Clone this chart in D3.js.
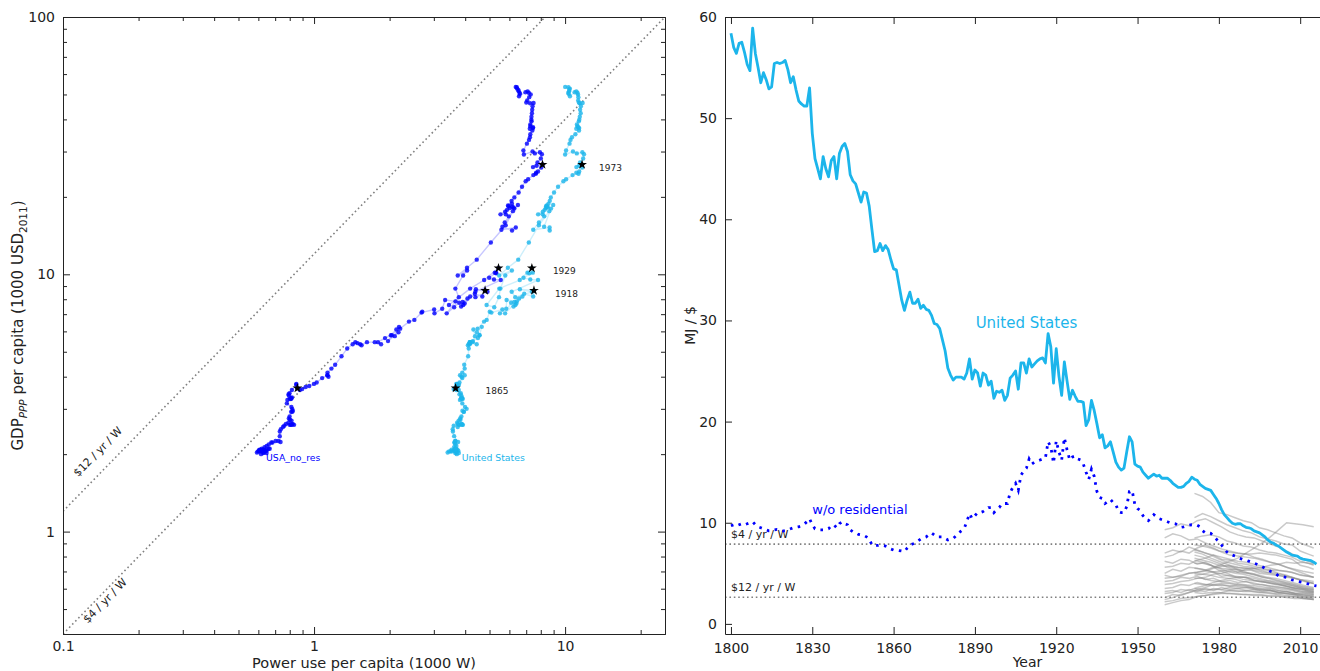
<!DOCTYPE html>
<meta charset="utf-8">
<script src="https://cdn.jsdelivr.net/npm/d3@7"></script>
<style>
  body { margin: 0; background: #fff; }
  svg text { font-family: "DejaVu Sans", sans-serif; }
</style>
<div id="viz"></div>
<script>

// ---- data -------------------------------------------------------------
const years = d3.range(1800, 2017);

// GDP per capita, 1000 USD (2011, PPP)
const gdpPerCapita = [
  2.00, 2.02, 2.05, 2.03, 2.06, 2.08, 2.10, 2.10, 2.02, 2.05,
  2.08, 2.08, 2.05, 2.05, 2.03, 2.05, 2.06, 2.07, 2.08, 2.07,
  2.08, 2.10, 2.13, 2.15, 2.18, 2.22, 2.22, 2.25, 2.25, 2.23,
  2.35, 2.45, 2.50, 2.58, 2.55, 2.62, 2.65, 2.60, 2.60, 2.70,
  2.62, 2.60, 2.60, 2.62, 2.72, 2.75, 2.80, 2.92, 2.95, 2.92,
  3.00, 3.05, 3.15, 3.30, 3.30, 3.28, 3.32, 3.28, 3.25, 3.38,
  3.45, 3.42, 3.55, 3.72, 3.75, 3.61, 3.55, 3.58, 3.65, 3.68,
  3.75, 3.80, 3.95, 4.05, 4.00, 4.05, 4.15, 4.30, 4.45, 4.80,
  5.15, 5.35, 5.45, 5.40, 5.35, 5.30, 5.45, 5.45, 5.35, 5.45,
  5.65, 5.80, 6.25, 5.80, 5.50, 5.95, 5.75, 6.10, 6.15, 6.55,
  6.65, 7.15, 7.10, 7.30, 7.05, 7.35, 7.95, 7.85, 7.05, 7.75,
  7.70, 7.80, 8.05, 8.20, 7.50, 7.60, 8.40, 8.20, 8.65, 8.75,
  8.55, 8.15, 8.55, 9.50, 9.55, 9.70, 10.15, 10.10, 10.15, 10.57,
  9.50, 8.80, 7.60, 7.45, 8.15, 8.80, 9.90, 10.35, 9.90, 10.60,
  11.40, 13.30, 15.50, 17.60, 18.60, 18.00, 15.30, 14.80, 15.20, 14.90,
  15.90, 16.80, 17.10, 17.50, 17.10, 18.10, 18.20, 18.30, 17.80, 18.80,
  18.40, 18.50, 19.30, 19.90, 20.80, 21.90, 23.00, 23.40, 24.30, 24.80,
  24.60, 25.10, 26.00, 26.70, 26.40, 26.10, 27.20, 28.20, 29.30, 29.80,
  29.50, 30.00, 29.20, 30.30, 32.20, 33.30, 34.10, 35.00, 36.20, 37.00,
  37.30, 36.80, 37.60, 38.20, 39.30, 39.90, 41.00, 42.30, 43.60, 45.00,
  46.30, 46.20, 46.50, 47.40, 48.80, 50.00, 50.80, 51.40, 51.00, 49.20,
  50.20, 50.70, 51.50, 52.00, 52.70, 53.30, 53.50
];

// energy intensity, MJ per $ (United States, all uses)
const mjPerDollarUS = [
  58.4, 57.0, 56.4, 57.4, 57.5, 56.5, 55.3, 54.7, 58.9, 56.4,
  55.0, 53.5, 54.5, 53.8, 52.9, 53.1, 55.4, 55.5, 55.4, 55.5,
  55.7, 54.8, 53.5, 54.1, 52.8, 51.7, 51.4, 51.2, 51.2, 53.0,
  48.5, 46.0, 45.0, 44.0, 46.2, 45.0, 44.2, 45.8, 46.2, 44.0,
  46.5, 47.2, 47.5, 46.7, 44.4, 43.8, 43.5, 42.6, 41.7, 42.7,
  42.6, 41.3, 39.0, 36.8, 36.9, 37.6, 36.9, 37.4, 37.0, 36.0,
  35.1, 35.0, 33.5, 32.0, 31.0, 32.0, 32.8, 31.7, 31.7, 32.1,
  31.2, 31.5, 31.1, 31.0, 30.5, 29.7, 29.6, 29.2, 28.1, 27.0,
  25.3, 24.6, 24.1, 24.4, 24.4, 24.4, 24.2, 24.8, 26.2, 24.2,
  25.1, 24.8, 23.5, 24.8, 24.6, 23.6, 24.0, 22.3, 23.0, 22.9,
  23.1, 22.1, 22.6, 24.3, 24.6, 25.0, 23.2, 25.8, 25.8, 24.8,
  26.2, 25.4, 25.7, 26.0, 26.2, 26.3, 25.8, 28.7, 27.4, 23.8,
  27.2, 24.5, 22.6, 25.9, 24.0, 22.2, 23.1, 22.5, 22.0, 22.0,
  21.9, 19.6, 20.2, 22.1, 21.1, 19.8, 18.4, 18.7, 17.4, 17.6,
  18.0, 17.0, 16.0, 15.5, 15.2, 15.4, 17.0, 18.5, 18.0, 15.8,
  15.6, 15.5, 15.0, 14.7, 14.4, 14.6, 14.8, 14.6, 14.7, 14.4,
  14.4, 14.4, 14.2, 13.9, 13.7, 13.5, 13.5, 13.6, 13.9, 14.1,
  14.5, 14.3, 14.2, 13.8, 13.6, 13.4, 13.3, 13.2, 12.8, 12.4,
  11.9, 11.3, 10.8, 10.5, 10.2, 9.95, 9.85, 9.9, 9.9, 9.7,
  9.55, 9.5, 9.4, 9.2, 9.1, 9.0, 8.8, 8.6, 8.3, 8.1,
  8.0, 7.8, 7.7, 7.5, 7.3, 7.1, 6.95, 6.8, 6.75, 6.7,
  6.5, 6.4, 6.35, 6.3, 6.25, 6.1, 5.9
];

// energy intensity, MJ per $ (United States without residential use)
const mjPerDollarNoRes = [
  9.7, 9.8, 9.7, 9.8, 9.9, 9.8, 9.9, 10.0, 10.1, 9.8,
  9.6, 9.5, 9.4, 9.3, 9.2, 9.2, 9.3, 9.35, 9.3, 9.2,
  9.2, 9.3, 9.4, 9.5, 9.55, 9.6, 9.7, 9.85, 10.1, 10.4,
  9.8, 9.4, 9.3, 9.3, 9.3, 9.3, 9.4, 9.7, 9.8, 9.5,
  9.9, 10.1, 9.9, 9.8, 9.3, 9.1, 9.0, 8.85, 8.8, 8.75,
  8.6, 8.4, 7.8, 7.7, 7.75, 7.8, 7.75, 7.7, 7.6, 7.4,
  7.3, 7.3, 7.25, 7.2, 7.15, 7.5, 7.8, 7.9, 8.0, 8.2,
  8.4, 8.5, 8.6, 8.8, 9.0, 8.8, 8.6, 8.6, 8.6, 8.45,
  8.3, 8.4, 8.45, 8.7, 9.0, 9.2, 9.4, 10.1, 10.9, 10.4,
  10.7, 11.0, 11.0, 11.1, 11.3, 11.5, 11.5, 11.0, 11.3, 11.5,
  11.9, 11.9, 11.9, 13.0, 13.5, 13.9, 13.2, 14.7, 15.1, 15.4,
  16.3, 15.8, 16.0, 16.1, 16.2, 16.3, 16.4, 18.0, 17.5, 15.9,
  18.1, 17.0, 16.2, 18.4, 17.2, 16.2, 16.5, 16.6, 16.3, 16.2,
  15.8, 15.0, 14.3, 15.3, 14.6, 13.1, 12.5, 12.4, 11.9, 12.1,
  12.3, 12.0, 11.8, 11.1, 11.0, 11.0, 11.6, 13.1, 13.2, 11.8,
  11.4, 11.2, 10.7, 10.4, 10.2, 10.5, 10.8, 10.6, 10.4, 10.3,
  10.2, 10.1, 10.0, 9.95, 9.9, 9.7, 9.55, 9.6, 9.7, 9.75,
  9.8, 9.8, 9.75, 9.6, 9.2, 9.0, 9.0, 8.95, 8.7, 8.4,
  8.1, 7.8, 7.4, 7.1, 6.9, 6.8, 6.7, 6.55, 6.45, 6.35,
  6.3, 6.2, 6.1, 6.0, 5.9, 5.8, 5.65, 5.5, 5.35, 5.2,
  5.1, 4.95, 4.75, 4.7, 4.65, 4.6, 4.45, 4.35, 4.3, 4.2,
  4.15, 4.1, 4.0, 3.95, 3.85, 3.8, 3.75
];

const markedYears = [1865, 1918, 1929, 1973];
const ratioLines = [4, 12];          // $ / yr / W

// other countries (grey background lines), MJ per $
const greyYearsA = [1960, 1963, 1966, 1969, 1972, 1975, 1978, 1981, 1984, 1987, 1990, 1993,
                    1996, 1999, 2002, 2005, 2008, 2011, 2015];
const greySeriesA = [
  [6.2, 6.0, 6.4, 6.3, 5.9, 6.1, 5.7, 5.5, 5.4, 5.1, 5.0, 4.9, 4.6, 4.5, 4.3, 4.1, 3.9, 3.7, 3.5],
  [5.0, 5.4, 5.2, 5.6, 5.5, 5.3, 5.1, 4.7, 4.8, 4.6, 4.6, 4.3, 4.2, 4.0, 3.9, 3.7, 3.5, 3.4, 3.2],
  [4.2, 4.3, 4.6, 4.5, 4.7, 4.4, 4.5, 4.2, 4.3, 4.1, 4.2, 3.9, 3.9, 3.7, 3.6, 3.5, 3.4, 3.2, 3.1],
  [3.5, 3.6, 3.9, 3.8, 4.1, 3.9, 3.8, 3.9, 3.7, 3.9, 3.8, 3.6, 3.5, 3.5, 3.3, 3.2, 3.0, 2.9, 2.8],
  [2.6, 2.9, 2.8, 3.1, 3.3, 3.2, 3.5, 3.4, 3.6, 3.5, 3.6, 3.4, 3.3, 3.3, 3.1, 3.0, 2.9, 2.8, 2.7],
  [1.9, 2.1, 2.3, 2.4, 2.7, 2.8, 3.0, 3.1, 3.3, 3.2, 3.3, 3.2, 3.1, 3.0, 2.9, 2.8, 2.7, 2.5, 2.4],
  [7.0, 7.3, 7.1, 7.6, 7.3, 7.0, 6.8, 6.4, 6.3, 6.0, 5.9, 5.7, 5.5, 5.3, 5.0, 4.8, 4.5, 4.3, 4.0],
  [8.5, 8.9, 8.7, 8.3, 8.4, 8.0, 7.7, 7.4, 7.2, 7.0, 6.9, 6.6, 6.4, 6.1, 5.9, 5.6, 5.3, 5.0, 4.6],
  [9.3, 9.5, 9.9, 9.7, 10.2, 10.4, 10.0, 9.6, 9.1, 8.8, 8.6, 8.5, 8.2, 7.9, 7.6, 7.2, 6.8, 6.4, 6.0],
  [4.8, 4.6, 4.7, 5.0, 5.1, 5.2, 5.5, 5.7, 5.8, 5.6, 5.5, 5.3, 5.1, 5.0, 4.8, 4.6, 4.5, 4.3, 4.0],
  [3.0, 3.1, 3.4, 3.3, 3.6, 3.8, 4.1, 4.3, 4.5, 4.6, 4.6, 4.5, 4.3, 4.2, 4.0, 3.9, 3.7, 3.5, 3.4],
  [5.6, 5.7, 6.0, 5.9, 6.3, 6.5, 6.8, 6.6, 6.4, 6.2, 6.1, 5.9, 5.7, 5.5, 5.3, 5.2, 5.0, 4.8, 4.6],
  [2.2, 2.3, 2.5, 2.6, 2.7, 2.8, 2.9, 3.0, 3.0, 2.9, 2.9, 2.8, 2.8, 2.7, 2.7, 2.6, 2.5, 2.5, 2.4],
  [6.6, 6.8, 7.2, 7.0, 7.5, 7.8, 7.5, 7.1, 6.8, 6.7, 6.6, 6.5, 6.3, 6.1, 5.9, 5.6, 5.4, 5.2, 5.0],
  [3.9, 4.0, 4.2, 4.3, 4.5, 4.6, 4.9, 5.0, 5.2, 5.1, 5.4, 5.5, 5.6, 5.8, 5.9, 6.1, 6.0, 6.1, 5.9],
  [4.5, 4.6, 4.8, 5.0, 5.1, 5.3, 5.6, 5.9, 6.2, 6.5, 7.0, 7.5, 8.0, 8.6, 9.3, 10.0, 9.9, 9.8, 9.6],
  [2.4, 2.6, 2.9, 3.1, 3.4, 3.6, 3.9, 4.0, 4.0, 3.8, 3.7, 3.5, 3.4, 3.3, 3.1, 3.0, 2.9, 2.7, 2.6],
  [3.2, 3.3, 3.1, 3.4, 3.2, 3.5, 3.3, 3.6, 3.4, 3.5, 3.3, 3.4, 3.2, 3.3, 3.1, 3.2, 3.0, 3.0, 2.9]
];
const greyYearsB = [1971, 1974, 1977, 1980, 1983, 1986, 1989, 1992, 1995, 1998, 2001, 2004,
                    2007, 2010, 2013, 2015];
const greySeriesB = [
  [7.3, 7.1, 6.8, 6.4, 6.1, 5.9, 5.7, 5.6, 5.3, 5.1, 5.0, 4.8, 4.6, 4.3, 4.1, 4.0],
  [6.8, 6.6, 6.3, 6.0, 5.6, 5.4, 5.1, 5.0, 4.8, 4.6, 4.5, 4.3, 4.1, 3.9, 3.7, 3.6],
  [6.0, 6.0, 5.8, 5.5, 5.2, 5.0, 4.9, 4.7, 4.5, 4.3, 4.2, 4.0, 3.8, 3.6, 3.4, 3.3],
  [5.5, 5.4, 5.2, 5.0, 4.8, 4.6, 4.4, 4.3, 4.2, 4.1, 4.0, 3.8, 3.6, 3.4, 3.2, 3.1],
  [5.0, 4.9, 4.8, 4.6, 4.5, 4.4, 4.2, 4.1, 3.9, 3.8, 3.7, 3.6, 3.4, 3.2, 3.1, 3.0],
  [4.5, 4.5, 4.3, 4.2, 4.1, 4.0, 3.9, 3.8, 3.7, 3.6, 3.5, 3.4, 3.3, 3.1, 3.0, 2.9],
  [4.0, 3.9, 3.9, 3.8, 3.8, 3.7, 3.6, 3.6, 3.4, 3.4, 3.3, 3.2, 3.1, 2.9, 2.8, 2.7],
  [3.5, 3.4, 3.4, 3.4, 3.3, 3.3, 3.2, 3.2, 3.1, 3.1, 3.0, 3.0, 2.9, 2.7, 2.6, 2.5],
  [3.1, 3.0, 3.1, 3.1, 3.0, 3.0, 2.9, 2.9, 2.9, 2.8, 2.8, 2.7, 2.7, 2.6, 2.5, 2.4],
  [12.9, 12.6, 12.0, 11.0, 10.8, 10.5, 10.2, 10.0, 9.5, 9.3, 9.0, 8.7, 8.5, 8.0, 7.7, 7.5],
  [10.5, 10.9, 10.6, 10.2, 9.8, 9.5, 9.2, 9.0, 8.6, 8.4, 8.2, 7.9, 7.8, 7.2, 6.9, 6.7],
  [8.5, 8.7, 8.8, 8.6, 8.2, 8.0, 7.7, 7.6, 7.3, 7.1, 7.0, 6.8, 6.6, 6.2, 6.0, 5.8],
  [7.8, 7.7, 7.5, 7.2, 7.1, 7.0, 6.9, 6.9, 7.0, 6.9, 6.8, 6.6, 6.4, 5.8, 5.6, 5.4],
  [4.8, 4.9, 5.1, 5.2, 5.3, 5.4, 5.3, 5.3, 5.0, 4.9, 4.8, 4.7, 4.6, 4.4, 4.3, 4.2],
  [6.5, 6.3, 6.1, 5.8, 5.7, 5.6, 5.5, 5.5, 5.4, 5.3, 5.3, 5.2, 5.1, 4.8, 4.7, 4.6],
  [7.1, 6.9, 6.5, 6.2, 5.9, 5.5, 5.2, 4.9, 4.7, 4.5, 4.3, 4.1, 3.9, 3.7, 3.5, 3.4],
  [6.3, 6.1, 5.8, 5.3, 5.0, 4.7, 4.6, 4.4, 4.2, 4.1, 3.9, 3.8, 3.6, 3.5, 3.3, 3.2]
];

// tick values
const xMajorLeft = [0.1, 1, 10];
const xMinorLeft = [0.2, 0.3, 0.4, 0.5, 0.6, 0.7, 0.8, 0.9, 2, 3, 4, 5, 6, 7, 8, 9, 20];
const yMajorLeft = [1, 10, 100];
const yMinorLeft = [0.4, 0.5, 0.6, 0.7, 0.8, 0.9, 2, 3, 4, 5, 6, 7, 8, 9, 20, 30, 40, 50, 60, 70, 80, 90];
const yearTicks = [1800, 1830, 1860, 1890, 1920, 1950, 1980, 2010];
const mjTicks = [0, 10, 20, 30, 40, 50, 60];

// ---- setup ------------------------------------------------------------
const MJ_PER_WATT_YEAR = 31.536;   // 1 W for a year, in MJ
const lightBlue = "#1cb5eb", darkBlue = "#0000ff", ink = "#222";

const svg = d3.select("#viz").append("svg")
  .attr("width", 1320).attr("height", 671);

function styleAxis(g, size) {
  g.attr("font-family", "DejaVu Sans").attr("font-size", size);
  g.selectAll("path.domain").attr("stroke", ink);
  g.selectAll(".tick line").attr("stroke", ink);
  g.selectAll(".tick text").attr("fill", ink);
  return g;
}

// rows for the scatter: power = intensity * gdp (unit conversion)
const rows = years.map((yr, i) => ({
  year: yr,
  gdp: gdpPerCapita[i],
  pUS: mjPerDollarUS[i] * gdpPerCapita[i] / MJ_PER_WATT_YEAR,
  pNoRes: mjPerDollarNoRes[i] * gdpPerCapita[i] / MJ_PER_WATT_YEAR
}));

// ---- left panel: GDP vs power -----------------------------------------
const L = {left: 63, right: 665, top: 17, bottom: 634};
const x = d3.scaleLog().domain([0.1, 25]).range([L.left, L.right]);
const y = d3.scaleLog().domain([0.4, 100]).range([L.bottom, L.top]);

svg.append("clipPath").attr("id", "clipL")
  .append("rect").attr("x", L.left).attr("y", L.top)
  .attr("width", L.right - L.left).attr("height", L.bottom - L.top);

const left = svg.append("g");
const plotL = left.append("g").attr("clip-path", "url(#clipL)");

// $ / yr / W guide lines
ratioLines.forEach(r => {
  const p0 = 0.1, p1 = 100 / r;
  plotL.append("line")
    .attr("x1", x(p0)).attr("y1", y(r * p0))
    .attr("x2", x(p1)).attr("y2", y(r * p1))
    .attr("stroke", "#808080").attr("stroke-width", 1.6)
    .attr("stroke-dasharray", "1.6,2.8");
});
const angle = Math.atan2(y(40) - y(4), x(10) - x(1)) * 180 / Math.PI;
[{r: 12, p: 0.125, dy: -13}, {r: 4, p: 0.117, dy: 10.5}].forEach(d => {
  left.append("text")
    .attr("transform", `translate(${x(d.p)},${y(d.r * d.p)}) rotate(${angle})`)
    .attr("y", d.dy)
    .attr("font-size", 11).attr("fill", ink)
    .text(`$${d.r} / yr / W`);
});

const series = [
  {key: "pNoRes", color: darkBlue, label: "USA_no_res"},
  {key: "pUS", color: lightBlue, label: "United States"}
];

series.forEach(s => {
  const line = d3.line().x(d => x(d[s.key])).y(d => y(d.gdp));
  plotL.append("path").datum(rows)
    .attr("d", line)
    .attr("fill", "none").attr("stroke", s.color)
    .attr("stroke-opacity", 0.22).attr("stroke-width", 1.4);
});
series.forEach(s => {
  plotL.append("g").selectAll("circle")
    .data(rows).join("circle")
    .attr("cx", d => x(d[s.key])).attr("cy", d => y(d.gdp))
    .attr("r", 2.2)
    .attr("fill", s.color).attr("fill-opacity", 0.8);
  const first = rows[0];
  left.append("text")
    .attr("x", x(first[s.key]) + 5).attr("y", y(first.gdp) + 7)
    .attr("font-size", 9.3).attr("fill", s.color)
    .text(s.label);
});

// marked years: stars on both series, label next to the US star
const star = d3.symbol().type(d3.symbolStar).size(30);
const marked = rows.filter(d => markedYears.includes(d.year));
const labelDx = {1865: 30, 1918: 21, 1929: 21, 1973: 17};
marked.forEach(d => {
  ["pNoRes", "pUS"].forEach(k => {
    left.append("path").attr("d", star)
      .attr("transform", `translate(${x(d[k])},${y(d.gdp)})`)
      .attr("fill", "#000");
  });
  left.append("text")
    .attr("x", x(d.pUS) + labelDx[d.year]).attr("y", y(d.gdp) + 3)
    .attr("dy", "0.35em")
    .attr("font-size", 9).attr("fill", ink)
    .text(d.year);
});

// axes (ticks pointing inward on all four sides)
const fmt = d3.format("~g");
styleAxis(left.append("g").attr("transform", `translate(0,${L.bottom})`)
  .call(d3.axisBottom(x).tickValues(xMajorLeft).tickFormat(fmt)
    .tickSize(-7).tickSizeOuter(0).tickPadding(7)), 14);
styleAxis(left.append("g").attr("transform", `translate(0,${L.bottom})`)
  .call(d3.axisBottom(x).tickValues(xMinorLeft).tickFormat("")
    .tickSize(-4).tickSizeOuter(0)), 14);
styleAxis(left.append("g").attr("transform", `translate(0,${L.top})`)
  .call(d3.axisTop(x).tickValues(xMajorLeft).tickFormat("")
    .tickSize(-7).tickSizeOuter(0)), 14);
styleAxis(left.append("g").attr("transform", `translate(0,${L.top})`)
  .call(d3.axisTop(x).tickValues(xMinorLeft).tickFormat("")
    .tickSize(-4).tickSizeOuter(0)), 14);
styleAxis(left.append("g").attr("transform", `translate(${L.left},0)`)
  .call(d3.axisLeft(y).tickValues(yMajorLeft).tickFormat(fmt)
    .tickSize(-7).tickSizeOuter(0).tickPadding(8)), 14);
styleAxis(left.append("g").attr("transform", `translate(${L.left},0)`)
  .call(d3.axisLeft(y).tickValues(yMinorLeft).tickFormat("")
    .tickSize(-4).tickSizeOuter(0)), 14);
styleAxis(left.append("g").attr("transform", `translate(${L.right},0)`)
  .call(d3.axisRight(y).tickValues(yMajorLeft).tickFormat("")
    .tickSize(-7).tickSizeOuter(0)), 14);
styleAxis(left.append("g").attr("transform", `translate(${L.right},0)`)
  .call(d3.axisRight(y).tickValues(yMinorLeft).tickFormat("")
    .tickSize(-4).tickSizeOuter(0)), 14);

left.append("text")
  .attr("x", (L.left + L.right) / 2).attr("y", 667.5)
  .attr("text-anchor", "middle").attr("font-size", 14.5).attr("fill", ink)
  .text("Power use per capita (1000 W)");

const yTitle = left.append("text")
  .attr("transform", `translate(23,${(L.top + L.bottom) / 2}) rotate(-90)`)
  .attr("text-anchor", "middle").attr("font-size", 15).attr("fill", ink);
yTitle.append("tspan").text("GDP");
yTitle.append("tspan").attr("font-size", 10.5).attr("font-style", "italic")
  .attr("dy", 4).text("PPP");
yTitle.append("tspan").attr("dy", -4).text(" per capita (1000 USD");
yTitle.append("tspan").attr("font-size", 10.5).attr("dy", 4).text("2011");
yTitle.append("tspan").attr("dy", -4).text(")");

// ---- right panel: MJ per $ over time ----------------------------------
const R = {left: 725, right: 1330, top: 17, bottom: 634};
const xr = d3.scaleLinear().domain([1797.8, 2021]).range([R.left, R.right]);
const yr = d3.scaleLinear().domain([-1, 60]).range([R.bottom, R.top]);

const right = svg.append("g");

const greyLine = d3.line().x(d => xr(d[0])).y(d => yr(d[1]));
[[greyYearsA, greySeriesA], [greyYearsB, greySeriesB]].forEach(([ys, list]) => {
  right.append("g").selectAll("path")
    .data(list).join("path")
    .attr("d", vals => greyLine(ys.map((yv, i) => [yv, vals[i]])))
    .attr("fill", "none").attr("stroke", "#888")
    .attr("stroke-opacity", 0.45).attr("stroke-width", 1.5);
});

ratioLines.forEach(r => {
  const v = MJ_PER_WATT_YEAR / r;
  right.append("line")
    .attr("x1", xr.range()[0]).attr("x2", xr.range()[1])
    .attr("y1", yr(v)).attr("y2", yr(v))
    .attr("stroke", "#808080").attr("stroke-width", 1.6)
    .attr("stroke-dasharray", "1.6,2.8");
  right.append("text")
    .attr("x", xr(1800)).attr("y", yr(v) - 6)
    .attr("font-size", 11).attr("fill", ink)
    .text(`$${r} / yr / W`);
});

const tsLine = d3.line().x(d => xr(d[0])).y(d => yr(d[1]));
right.append("path")
  .datum(years.map((yv, i) => [yv, mjPerDollarUS[i]]))
  .attr("d", tsLine)
  .attr("fill", "none").attr("stroke", lightBlue)
  .attr("stroke-width", 2.8).attr("stroke-linejoin", "round");
right.append("path")
  .datum(years.map((yv, i) => [yv, mjPerDollarNoRes[i]]))
  .attr("d", tsLine)
  .attr("fill", "none").attr("stroke", darkBlue)
  .attr("stroke-width", 2.8).attr("stroke-dasharray", "2.6,5.4");

right.append("text")
  .attr("x", xr(1909)).attr("y", yr(29.8))
  .attr("text-anchor", "middle").attr("dy", "0.35em")
  .attr("font-size", 15).attr("fill", lightBlue)
  .text("United States");
right.append("text")
  .attr("x", xr(1830)).attr("y", yr(10.9))
  .attr("font-size", 13).attr("fill", darkBlue)
  .text("w/o residential");

styleAxis(right.append("g").attr("transform", `translate(0,${R.bottom})`)
  .call(d3.axisBottom(xr).tickValues(yearTicks).tickFormat(d3.format("d"))
    .tickSize(-7).tickSizeOuter(0).tickPadding(9)), 14);
styleAxis(right.append("g").attr("transform", `translate(0,${R.top})`)
  .call(d3.axisTop(xr).tickValues(yearTicks).tickFormat("")
    .tickSize(-7).tickSizeOuter(0)), 14);
styleAxis(right.append("g").attr("transform", `translate(${R.left},0)`)
  .call(d3.axisLeft(yr).tickValues(mjTicks).tickFormat(d3.format("d"))
    .tickSize(-7).tickSizeOuter(0).tickPadding(8)), 14);

right.append("text")
  .attr("x", (R.left + R.right) / 2).attr("y", 667)
  .attr("text-anchor", "middle").attr("font-size", 14).attr("fill", ink)
  .text("Year");
right.append("text")
  .attr("transform", `translate(695,${(R.top + R.bottom) / 2}) rotate(-90)`)
  .attr("text-anchor", "middle").attr("font-size", 14).attr("fill", ink)
  .text("MJ / $");

</script>
